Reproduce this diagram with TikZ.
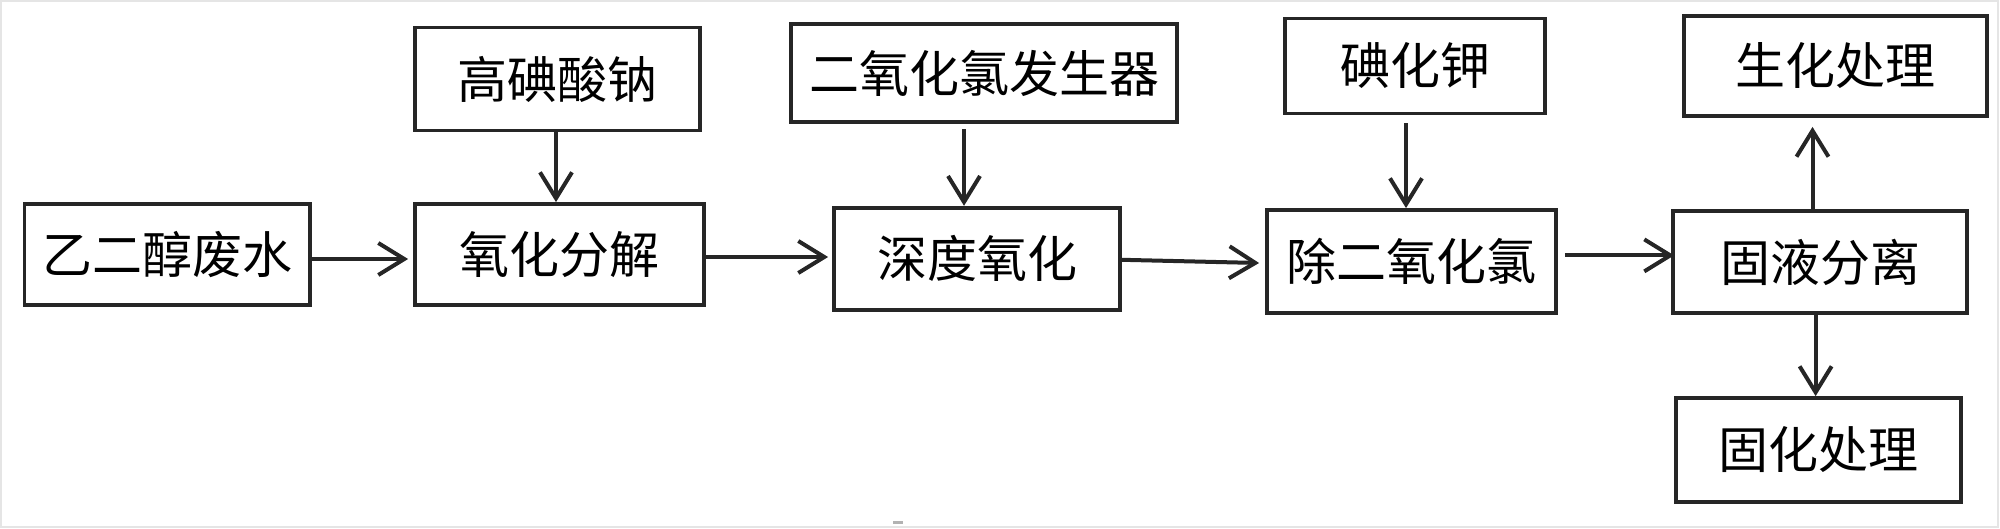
\documentclass[tikz,border=0pt]{standalone}
\usepackage{fontspec}
\newfontfamily\cjk{Noto Sans CJK SC}
\usetikzlibrary{arrows.meta}
\begin{document}
\begin{tikzpicture}[x=0.5pt,y=-0.5pt,
  box/.style={draw=black!85,line width=1.9pt,inner sep=0pt,font=\cjk\fontsize{25pt}{30pt}\selectfont},
  arr/.style={draw=black!85,line width=2pt,-{Straight Barb[length=13pt,width=16pt,line width=2pt]}}]
\useasboundingbox (0,0) rectangle (2000,529);
\draw[gray!20,line width=1pt] (1,1) rectangle (1998,527);
\fill[gray!60] (893,521) rectangle (903,524);
\node[box,minimum width=142.75pt,minimum height=50.5pt] (A) at (167.3,254.5) {乙二醇废水};
\node[box,minimum width=142.5pt,minimum height=51.5pt] (B) at (557.5,79) {高碘酸钠};
\node[box,minimum width=144.5pt,minimum height=50.5pt] (C) at (559.5,254.5) {氧化分解};
\node[box,minimum width=192.75pt,minimum height=49pt] (D) at (984,73.4) {二氧化氯发生器};
\node[box,minimum width=143pt,minimum height=51pt] (E) at (977,258.7) {深度氧化};
\node[box,minimum width=130pt,minimum height=47.5pt] (F) at (1415,66) {碘化钾};
\node[box,minimum width=144.5pt,minimum height=51.5pt] (G) at (1411.5,261.5) {除二氧化氯};
\node[box,minimum width=147pt,minimum height=51pt] (H) at (1820,262) {固液分离};
\node[box,minimum width=151.5pt,minimum height=50pt] (I) at (1835.5,66) {生化处理};
\node[box,minimum width=142.5pt,minimum height=52pt] (J) at (1818.5,450) {固化处理};
% connectors
\draw[arr] (A.east |- 0,259) -- ([xshift=-2.5pt]C.west |- 0,259);
\draw[arr] (B.south -| 556,0) -- (C.north -| 556,0);
\draw[arr] (C.east |- 0,257) -- ([xshift=-2pt]E.west |- 0,257);
\draw[arr] ([yshift=-2.5pt]D.south -| 964,0) -- (E.north -| 964,0);
\draw[arr] (E.east |- 0,259.8) -- ([xshift=-3pt]G.west |- 0,263);
\draw[arr] ([yshift=-4pt]F.south -| 1406,0) -- (G.north -| 1406,0);
\draw[arr] ([xshift=3.5pt]G.east |- 0,255.4) -- ([xshift=1.5pt]H.west |- 0,255.4);
\draw[arr] (H.north -| 1812.5,0) -- ([yshift=-4.5pt]I.south -| 1812.5,0);
\draw[arr] (H.south -| 1815.6,0) -- (J.north -| 1815.6,0);
\end{tikzpicture}
\end{document}
